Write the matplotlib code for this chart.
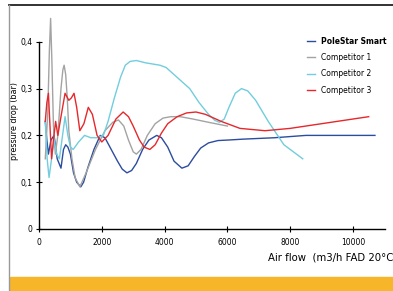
import matplotlib.pyplot as plt
from matplotlib.patches import Rectangle
from matplotlib.lines import Line2D

# flow (m3/h) and pressure drop (bar)
polestar_x = [200, 250, 300, 380, 480, 580, 700, 780, 850, 920, 1000, 1100, 1200, 1330, 1420,
              1550, 1750, 1950, 2100, 2300, 2500, 2650, 2800, 2950, 3100, 3300, 3500, 3750,
              3900, 4100, 4300, 4550, 4750, 4950, 5150, 5400, 5700, 6000, 6500, 7500, 8500,
              9500, 10700]
polestar_y = [0.23, 0.19, 0.16, 0.19, 0.2, 0.15, 0.13, 0.17, 0.18, 0.175, 0.16, 0.12, 0.1, 0.09, 0.1,
              0.13, 0.17, 0.2, 0.195, 0.17, 0.145, 0.128, 0.12, 0.125, 0.14, 0.17, 0.19, 0.2,
              0.195, 0.175, 0.145, 0.13, 0.135, 0.155, 0.173, 0.184, 0.189, 0.19, 0.192, 0.195,
              0.2, 0.2, 0.2]

comp1_x = [200, 280, 330, 370, 410, 460, 520, 600, 700, 760, 800, 850, 900, 950, 1050, 1150,
           1300, 1500, 1800, 2100, 2350, 2530, 2700, 2850, 3000, 3100, 3250, 3450, 3700, 3950,
           4200, 4500, 4900, 5400, 6000]
comp1_y = [0.15, 0.25, 0.38, 0.45, 0.36, 0.22, 0.16, 0.2, 0.3, 0.34, 0.35, 0.33, 0.28, 0.21, 0.15,
           0.11, 0.09, 0.12, 0.17, 0.21, 0.228, 0.233, 0.22, 0.19, 0.165, 0.16, 0.17, 0.2, 0.225,
           0.237, 0.24, 0.24, 0.235, 0.228, 0.22]

comp2_x = [200, 260, 320, 400, 480, 560, 650, 750, 830, 920, 1000, 1090, 1250, 1450, 1650,
           1850, 2050, 2200, 2400, 2600, 2750, 2900, 3100, 3400, 3850, 4050, 4300, 4550,
           4800, 5100, 5400, 5600, 5750, 5900, 6050, 6250, 6450, 6650, 6900, 7300, 7800, 8400]
comp2_y = [0.23, 0.15, 0.11, 0.15, 0.19, 0.16, 0.15, 0.2, 0.24, 0.2, 0.175, 0.17, 0.185, 0.2, 0.195,
           0.195, 0.2, 0.23, 0.28, 0.325, 0.35, 0.358, 0.36, 0.355, 0.35, 0.345, 0.33, 0.315,
           0.3, 0.27, 0.245, 0.232, 0.228, 0.235, 0.26, 0.29, 0.3, 0.295, 0.275, 0.23, 0.18, 0.15]

comp3_x = [200, 250, 300, 350, 400, 460, 530, 600, 700, 830, 950, 1030, 1115, 1200, 1300,
           1430, 1570, 1700, 1850, 2000, 2200, 2450, 2680, 2850, 3000, 3200, 3350, 3530,
           3700, 3900, 4100, 4400, 4700, 5000, 5300, 5800, 6400, 7200, 8000, 9000, 10000, 10500]
comp3_y = [0.23, 0.27, 0.29, 0.22, 0.15, 0.19, 0.23, 0.2, 0.24, 0.29, 0.275, 0.28, 0.29, 0.26, 0.21,
           0.225, 0.26, 0.245, 0.2, 0.186, 0.2, 0.235, 0.25, 0.24, 0.22, 0.19, 0.175, 0.17,
           0.18, 0.205, 0.225, 0.24, 0.248, 0.25, 0.245, 0.23, 0.215, 0.21, 0.215, 0.225,
           0.235, 0.24]

series = [
    ("PoleStar Smart", polestar_x, polestar_y, "#2c4c9f"),
    ("Competitor 1", comp1_x, comp1_y, "#a3a3a3"),
    ("Competitor 2", comp2_x, comp2_y, "#72cdde"),
    ("Competitor 3", comp3_x, comp3_y, "#e6282c"),
]

x_ticks = [0, 2000, 4000, 6000, 8000, 10000]
y_ticks = [0, 0.1, 0.2, 0.3, 0.4]
y_tick_labels = ["0", "0,1", "0,2", "0,3", "0,4"]

W, H = 393, 291
fig = plt.figure(figsize=(W / 100, H / 100), dpi=100)
fig.patch.set_facecolor("white")

# outer frame and orange footer band
fig.patches.append(Rectangle((10 / W, 0), 1, 14 / H, transform=fig.transFigure,
                             color="#f7b52a", zorder=0))
fig.lines.append(Line2D([9 / W, 1], [1 - 5 / H, 1 - 5 / H], transform=fig.transFigure,
                        color="#222222", lw=1.3))
fig.lines.append(Line2D([9 / W, 9 / W], [0, 1 - 5 / H], transform=fig.transFigure,
                        color="#999999", lw=1.0))

ymax = 0.46
left, right = 39 / W, 385 / W
bottom = 1 - 229 / H
top = 1 - (229 - ymax * 468) / H
ax = fig.add_axes([left, bottom, right - left, top - bottom])
ax.set_facecolor("none")

for name, xs, ys, col in series:
    ax.plot(xs, ys, color=col, lw=1.0, label=name)

ax.set_xlim(0, 11020)
ax.set_ylim(0, ymax)
ax.spines["top"].set_visible(False)
ax.spines["right"].set_visible(False)
ax.spines["left"].set_bounds(0, 0.4)
for s in ("left", "bottom"):
    ax.spines[s].set_linewidth(1.0)
ax.set_xticks(x_ticks)
ax.set_xticklabels([str(t) for t in x_ticks])
ax.set_yticks(y_ticks)
ax.set_yticklabels(y_tick_labels)
ax.tick_params(direction="inout", length=5, width=0.8, labelsize=5.5, pad=4)
ax.tick_params(axis="y", pad=2)

ax.set_ylabel("pressure drop (bar)", fontsize=5.8, labelpad=1)
fig.text(268 / W, 1 - 258 / H, "Air flow  (m3/h FAD 20°C", fontsize=7.3, va="center", ha="left")

leg = ax.legend(loc="upper left", bbox_to_anchor=(300 / W, 1 - 30 / H),
                bbox_transform=fig.transFigure, frameon=False, fontsize=5.5,
                handlelength=1.1, handletextpad=0.8, labelspacing=0.95)
leg.get_texts()[0].set_fontweight("bold")

fig.savefig("out.png", dpi=100)
